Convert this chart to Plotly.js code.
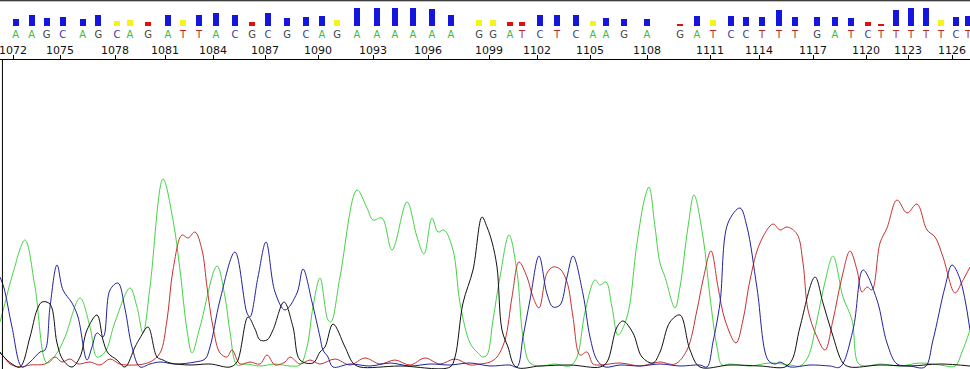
<!DOCTYPE html>
<html>
<head>
<meta charset="utf-8">
<script src="https://cdn.plot.ly/plotly-3.0.1.min.js"></script>
<style>html,body{margin:0;padding:0;background:#fff;}#chart{width:970px;height:369px;}</style>
</head>
<body>
<div id="chart"></div>
<script>
// ---- Base calls (scan position, letter, quality) ----
const basePos = [15.7,31.7,46.7,62.7,82.7,98.3,117,130,148,168,183,199,216,235,252,268,287,306,322,
  337,357,377,395,413,432,451,479,493,510,522,540,557,576,593,606,624,647,
  680,697,713,731,746,762,779,795,817,835,851,868,881,896,911,926,941,956,968];
const baseSeq = ["A","A","G","C","A","G","C","A","G","A","T","T","A","C","G","C","G","C","A",
  "G","A","A","A","A","A","A","G","G","A","T","C","T","C","A","A","G","A",
  "G","A","T","C","C","T","T","T","G","A","T","C","T","T","T","T","T","C","T"];
const baseQual = [21,33,24,27,21,33,15,18,11,33,18,33,38,33,13,38,25,28,31,
  19,53,53,53,53,50,33,18,18,11,11,33,33,33,16,25,21,21,
  6,31,18,31,28,28,48,28,28,28,23,13,6,48,53,53,18,28,31];

// ---- Tick marks (scan position, base number) ----
const tickPos = [13,60,115,165,213,265,318,373,428,489,537,590,647,710,759,813,866,908,952];
const tickLabels = ["1072","1075","1078","1081","1084","1087","1090","1093","1096","1099","1102","1105","1108","1111","1114","1117","1120","1123","1126"];

// ---- Trace channels: scan positions and intensities ----
const traceA_x = [0,4,13,25,35,47,57,65,80,90,97,105,115,130,137,143,150,163,173,180,187,192,200,217,225,230,237,245,260,275,290,300,307,313,320,328,331,340,357,367,373,382,392,407,417,424,432,438,444,453,460,470,477,483,487,493,500,509,517,523,530,540,555,570,577,585,595,600,606,612,618,627,637,645,649,655,660,665,675,680,688,694,703,710,717,722,730,750,770,790,800,808,817,825,833,843,852,858,865,880,900,920,940,955,962,970];
const traceA_y = [45,60,94,127,80,4,14,30,69,40,10,15,45,79,60,34,80,188,147,97,37,14,40,101,70,35,2,3,1,3,1,2,20,60,89,47,45,90,177,159,147,149,117,165,130,113,149,135,137,117,64,24,15,10,12,47,90,132,95,30,4,1,3,1,10,55,87,82,85,60,32,50,124,170,180,140,104,90,59,80,140,172,130,70,20,2,3,1,4,2,1,10,47,85,111,70,47,4,1,3,1,4,2,1,15,37];

const traceC_x = [0,4,12,22,30,40,45,50,57,63,72,78,87,92,97,103,110,118,125,132,140,150,160,175,195,205,210,220,235,247,250,258,266,275,285,297,303,312,320,323,328,333,350,370,390,410,430,450,470,490,510,517,523,530,539,547,553,560,567,573,583,590,597,605,620,640,660,680,700,707,713,720,728,740,747,757,768,775,780,790,810,830,840,853,863,877,887,897,910,925,933,945,952,960,970];
const traceC_y = [90,79,40,0,5,15,17,60,102,77,64,50,7,20,34,30,77,84,58,20,0,3,5,3,5,8,20,67,115,54,50,90,125,75,57,74,98,65,30,17,10,0,3,1,4,1,3,2,4,1,2,0,30,67,111,73,60,62,90,111,73,30,7,0,2,1,3,1,2,0,25,64,144,159,140,79,7,3,5,0,2,1,0,37,97,67,24,3,1,0,27,80,102,88,37];

const traceG_x = [0,4,12,20,30,37,42,50,57,63,72,80,87,97,103,108,117,125,135,140,148,157,163,170,190,210,230,237,248,255,260,267,273,284,293,300,313,320,325,333,345,353,360,400,450,455,463,473,482,487,492,497,502,508,516,540,570,600,607,617,623,633,642,653,660,670,680,690,700,730,760,785,792,800,815,823,832,843,850,880,910,940,970];
const traceG_y = [15,10,3,0,30,57,65,63,24,7,0,10,37,52,27,14,7,0,20,29,40,10,7,4,2,3,0,5,50,38,27,27,37,65,40,7,4,15,20,43,20,4,0,1,0,10,64,97,150,140,125,100,37,20,0,1,2,0,5,40,46,34,10,4,15,45,52,17,0,2,1,0,7,40,90,64,34,4,0,2,1,3,1];

const traceT_x = [0,4,10,20,30,45,55,62,70,78,90,100,110,120,135,150,160,167,173,182,188,195,202,207,213,220,227,232,240,250,260,267,275,285,290,300,310,320,335,350,365,380,395,410,425,440,455,470,480,490,497,505,512,519,527,533,539,547,553,560,567,573,580,587,593,600,620,640,650,660,675,687,697,703,711,718,725,736,743,750,760,773,780,787,797,803,808,817,825,833,842,850,857,862,867,872,880,887,897,907,917,927,935,943,955,962,970];
const traceT_y = [14,10,3,0,2,3,10,5,8,3,5,2,8,3,2,5,14,47,97,132,129,135,117,80,40,14,10,17,3,5,3,12,2,5,10,3,7,3,8,2,9,3,7,2,9,3,8,2,3,5,10,27,70,105,90,70,59,94,100,98,85,50,12,15,3,2,4,1,3,5,3,17,57,87,116,80,47,24,47,87,124,143,137,140,133,104,57,30,17,47,90,116,97,75,80,77,124,139,167,154,163,137,130,110,74,85,100];

// ---- Build figure ----
function qColor(q){ return q >= 20 ? "#1515e0" : (q >= 15 ? "#f4f41c" : "#e01010"); }
const letterColors = {A:"#3dbb3d", C:"#3a3a9a", G:"#444444", T:"#b02a2a"};

function chan(x, y, color){
  return {type:"scatter", mode:"lines", x:x, y:y, xaxis:"x", yaxis:"y",
    line:{color:color, width:1, shape:"spline", smoothing:1}, hoverinfo:"skip", showlegend:false};
}

const data = [
  chan(traceA_x, traceA_y, "#45d245"),
  chan(traceT_x, traceT_y, "#c83030"),
  chan(traceC_x, traceC_y, "#22229e"),
  chan(traceG_x, traceG_y, "#111111"),
  {type:"bar", x:basePos, y:baseQual, width:6, xaxis:"x", yaxis:"y2",
   marker:{color:baseQual.map(qColor), line:{width:0}}, hoverinfo:"skip", showlegend:false},
  {type:"scatter", mode:"text", x:basePos, y:basePos.map(()=>-27), text:baseSeq, xaxis:"x", yaxis:"y2",
   textposition:"middle center",
   textfont:{family:"DejaVu Sans", size:10, color:baseSeq.map(b=>letterColors[b])},
   hoverinfo:"skip", showlegend:false, cliponaxis:false}
];

const topDom = 309/369;
const layout = {
  width:970, height:369,
  margin:{l:0, r:0, t:0, b:0, pad:0},
  paper_bgcolor:"#ffffff", plot_bgcolor:"#ffffff",
  showlegend:false,
  xaxis:{range:[0,970], side:"top", anchor:"y", showline:true, linecolor:"#000", linewidth:1,
    ticks:"outside", ticklen:4, tickcolor:"#000", tickwidth:1,
    tickvals:tickPos, ticktext:tickLabels, ticklabelstandoff:-3, ticklabeloverflow:"allow",
    tickfont:{family:"DejaVu Sans", size:11, color:"#111"},
    showgrid:false, zeroline:false, fixedrange:true},
  yaxis:{domain:[0, topDom], range:[-2, 307], visible:false, fixedrange:true},
  yaxis2:{domain:[topDom, 1], range:[-102, 78], visible:false, anchor:"x", fixedrange:true},
  shapes:[
    {type:"line", xref:"paper", yref:"paper", x0:0, x1:1, y0:0.998, y1:0.998, line:{color:"#000", width:1}},
    {type:"line", xref:"paper", yref:"paper", x0:0.0025, x1:0.0025, y0:0, y1:topDom, line:{color:"#000", width:1}}
  ],
  bargap:0
};

Plotly.newPlot("chart", data, layout, {staticPlot:true, displayModeBar:false});
</script>
</body>
</html>
